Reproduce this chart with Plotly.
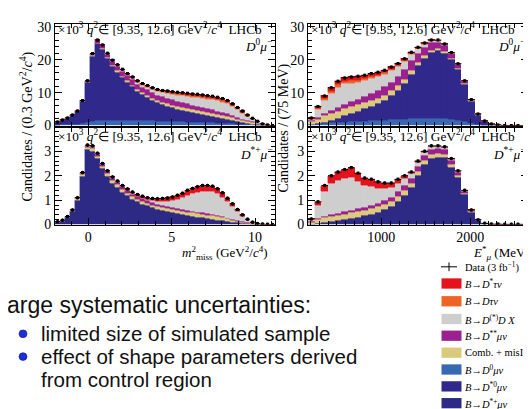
import plotly.graph_objects as go

W, H = 531, 409

# ---------------- binning ----------------
MM_LO, MM_W, MM_N = -2.0, 0.3, 44      # m2_miss [GeV^2/c^4]
E_LO, E_W, E_N = 175.0, 75.0, 33       # E*_mu [MeV]
mm_centers = [MM_LO + MM_W * (i + 0.5) for i in range(MM_N)]
e_centers = [E_LO + E_W * (i + 0.5) for i in range(E_N)]

# ---------------- D0 mu, m2_miss (x10^3) ----------------
d0_mm_data = [1.1, 1.7, 2.3, 3.2, 4.4, 7.6, 13.6, 21.9, 26.0, 24.5, 22.0, 19.9, 18.5, 17.1, 15.8, 14.8, 13.6, 12.8,
              12.2, 11.5, 11.0, 10.7, 10.5, 10.3, 10.1, 10.0, 9.8, 9.6, 9.5, 9.3, 9.1, 8.9, 8.6, 8.2, 7.6, 6.6, 5.5,
              4.4, 3.2, 2.2, 1.3, 0.5, 0.15, 0.02]
d0_mm_d0mu = [0.1, 0.15, 0.2, 0.3, 0.4, 0.6, 0.9, 1.2, 1.4, 1.5, 1.6, 1.6, 1.6, 1.6, 1.55, 1.5, 1.5, 1.45, 1.4, 1.35,
              1.3, 1.25, 1.2, 1.15, 1.1, 1.05, 1.0, 0.95, 0.9, 0.85, 0.8, 0.75, 0.7, 0.6, 0.5, 0.45, 0.35, 0.3, 0.2,
              0.15, 0.08, 0.03, 0.01, 0]
d0_mm_dst0mu = [0.9, 1.42, 1.92, 2.67, 3.7, 6.6, 12.03, 19.73, 23.39, 21.5, 18.66, 16.26, 14.62, 12.92, 11.52, 10.28,
                8.88, 7.88, 7.07, 6.22, 5.57, 5.01, 4.66, 4.26, 3.85, 3.57, 3.23, 2.94, 2.71, 2.43, 2.21, 2.0, 1.75,
                1.62, 1.43, 1.07, 0.85, 0.62, 0.44, 0.26, 0.15, 0.03, 0.01, 0]
d0_mm_comb = [0.05, 0.05, 0.05, 0.05, 0.08, 0.1, 0.15, 0.2, 0.25, 0.3, 0.35, 0.4, 0.4, 0.45, 0.45, 0.5, 0.5, 0.55, 0.6,
              0.6, 0.65, 0.7, 0.7, 0.75, 0.8, 0.85, 0.9, 0.9, 0.95, 1.0, 1.0, 1.0, 1.0, 0.95, 0.9, 0.85, 0.75, 0.65,
              0.55, 0.45, 0.3, 0.15, 0.05, 0]
d0_mm_dss = [0.02, 0.03, 0.05, 0.08, 0.12, 0.2, 0.35, 0.55, 0.7, 0.9, 1.0, 1.15, 1.3, 1.45, 1.55, 1.65, 1.7, 1.75, 1.75,
             1.75, 1.7, 1.7, 1.65, 1.6, 1.55, 1.5, 1.4, 1.3, 1.2, 1.1, 1.0, 0.95, 0.85, 0.75, 0.65, 0.55, 0.45, 0.38,
             0.28, 0.2, 0.12, 0.05, 0.02, 0]
d0_mm_ddx = [0.03, 0.05, 0.08, 0.1, 0.1, 0.1, 0.15, 0.15, 0.15, 0.15, 0.2, 0.25, 0.3, 0.35, 0.35, 0.45, 0.55, 0.65, 0.8,
             0.95, 1.1, 1.3, 1.5, 1.7, 1.9, 2.1, 2.3, 2.5, 2.7, 2.85, 3.0, 3.1, 3.2, 3.2, 3.1, 2.75, 2.3, 1.8, 1.25,
             0.8, 0.45, 0.15, 0.05, 0]
d0_mm_dtau = [0, 0, 0, 0, 0, 0, 0.02, 0.05, 0.08, 0.1, 0.12, 0.14, 0.16, 0.18, 0.2, 0.22, 0.24, 0.26, 0.28, 0.3, 0.32,
              0.34, 0.36, 0.38, 0.4, 0.41, 0.42, 0.43, 0.44, 0.45, 0.45, 0.45, 0.45, 0.44, 0.42, 0.38, 0.33, 0.27,
              0.2, 0.14, 0.08, 0.04, 0.01, 0]
d0_mm_dsttau = [0, 0, 0, 0, 0, 0, 0, 0.02, 0.03, 0.05, 0.07, 0.1, 0.12, 0.15, 0.18, 0.2, 0.23, 0.26, 0.3, 0.33, 0.36,
                0.4, 0.43, 0.46, 0.5, 0.52, 0.55, 0.58, 0.6, 0.62, 0.64, 0.65, 0.65, 0.64, 0.6, 0.55, 0.47, 0.38,
                0.28, 0.2, 0.12, 0.05, 0.02, 0]

# ---------------- D0 mu, E*_mu (x10^3) ----------------
d0_e_data = [2.3, 5.8, 9.0, 11.5, 13.5, 14.5, 14.8, 15.0, 15.3, 15.8, 16.2, 16.8, 17.8, 18.9, 20.3, 22.3, 23.8, 25.1,
             26.0, 26.0, 24.8, 22.2, 18.8, 13.6, 7.9, 3.5, 1.4, 0.45, 0.15, 0.05, 0.03, 0.02, 0.01]
d0_e_d0mu = [0.2, 0.4, 0.6, 0.8, 0.9, 1.0, 1.1, 1.2, 1.3, 1.4, 1.5, 1.6, 1.7, 1.8, 1.9, 2.0, 2.1, 2.2, 2.2, 2.2, 2.1,
             1.9, 1.6, 1.2, 0.7, 0.3, 0.12, 0.04, 0.01, 0, 0, 0, 0]
d0_e_dst0mu = [0.1, 0.1, 0.4, 0.7, 1.2, 1.9, 2.5, 3.1, 3.7, 4.4, 5.1, 6.0, 7.3, 8.85, 10.8, 13.55, 16.0, 18.3, 20.0,
               20.6, 19.9, 18.1, 15.45, 11.2, 6.55, 2.87, 1.13, 0.36, 0.12, 0.04, 0.02, 0.01, 0.0]
d0_e_comb = [0.8, 1.4, 1.9, 2.1, 2.2, 2.2, 2.1, 2.0, 1.9, 1.8, 1.7, 1.6, 1.5, 1.4, 1.3, 1.1, 0.9, 0.7, 0.6, 0.5, 0.5,
             0.4, 0.35, 0.3, 0.2, 0.1, 0.05, 0.02, 0.01, 0, 0, 0, 0]
d0_e_dss = [0.3, 0.5, 0.8, 1.0, 1.2, 1.3, 1.5, 1.7, 1.9, 2.1, 2.3, 2.5, 2.7, 2.9, 3.0, 3.0, 2.9, 2.6, 2.3, 2.0, 1.8,
            1.5, 1.2, 0.8, 0.4, 0.2, 0.08, 0.03, 0.01, 0, 0, 0, 0]
d0_e_ddx = [0.4, 2.3, 3.8, 5.1, 6.1, 6.2, 5.7, 5.2, 4.8, 4.55, 4.2, 3.85, 3.5, 3.0, 2.5, 2.0, 1.4, 0.9, 0.6, 0.45,
            0.35, 0.25, 0.15, 0.07, 0.05, 0.03, 0.02, 0.01, 0, 0, 0, 0, 0]
d0_e_dtau = [0.2, 0.5, 0.6, 0.7, 0.7, 0.7, 0.7, 0.6, 0.6, 0.55, 0.5, 0.45, 0.4, 0.35, 0.3, 0.25, 0.2, 0.15, 0.1, 0.08,
             0.05, 0.03, 0.02, 0.01, 0, 0, 0, 0, 0, 0, 0, 0, 0]
d0_e_dsttau = [0.3, 0.6, 0.9, 1.1, 1.2, 1.2, 1.2, 1.2, 1.1, 1.0, 0.9, 0.8, 0.7, 0.6, 0.5, 0.4, 0.3, 0.25, 0.2, 0.15,
               0.1, 0.05, 0.03, 0.02, 0.01, 0, 0, 0, 0, 0, 0, 0, 0]

# ---------------- D*+ mu, m2_miss (x10^3) ----------------
dp_mm_data = [0.12, 0.18, 0.33, 0.6, 1.1, 2.13, 3.25, 3.22, 2.92, 2.5, 2.2, 1.95, 1.78, 1.6, 1.46, 1.33, 1.23, 1.16,
              1.1, 1.07, 1.06, 1.07, 1.09, 1.13, 1.2, 1.28, 1.4, 1.48, 1.55, 1.6, 1.6, 1.57, 1.47, 1.3, 1.08, 0.85,
              0.62, 0.4, 0.22, 0.1, 0.04, 0.02, 0.01, 0.0]
dp_mm_dstpmu = [0.08, 0.13, 0.27, 0.52, 1.0, 1.98, 3.05, 3.0, 2.7, 2.28, 1.97, 1.7, 1.52, 1.33, 1.18, 1.04, 0.93, 0.84,
                0.76, 0.69, 0.63, 0.58, 0.53, 0.49, 0.45, 0.41, 0.37, 0.33, 0.3, 0.27, 0.24, 0.21, 0.18, 0.15, 0.12,
                0.09, 0.07, 0.05, 0.03, 0.015, 0.005, 0, 0, 0]
dp_mm_comb = [0.03, 0.03, 0.04, 0.05, 0.06, 0.08, 0.1, 0.1, 0.1, 0.1, 0.1, 0.1, 0.1, 0.1, 0.1, 0.1, 0.1, 0.1, 0.1,
              0.11, 0.11, 0.12, 0.12, 0.13, 0.13, 0.14, 0.14, 0.15, 0.15, 0.15, 0.15, 0.15, 0.14, 0.13, 0.11, 0.09,
              0.07, 0.05, 0.03, 0.02, 0.01, 0.01, 0, 0]
dp_mm_dss = [0.01, 0.01, 0.01, 0.02, 0.03, 0.04, 0.05, 0.06, 0.07, 0.08, 0.09, 0.1, 0.1, 0.11, 0.11, 0.11, 0.11, 0.11,
             0.11, 0.1, 0.1, 0.1, 0.09, 0.09, 0.08, 0.08, 0.07, 0.07, 0.06, 0.06, 0.05, 0.05, 0.04, 0.04, 0.03, 0.03,
             0.02, 0.02, 0.01, 0.01, 0, 0, 0, 0]
dp_mm_ddx = [0, 0.01, 0.01, 0.01, 0.01, 0.03, 0.04, 0.05, 0.04, 0.02, 0.02, 0.02, 0.03, 0.02, 0.02, 0.02, 0.02, 0.03,
             0.04, 0.07, 0.11, 0.15, 0.22, 0.28, 0.38, 0.47, 0.62, 0.71, 0.81, 0.88, 0.92, 0.93, 0.9, 0.8, 0.68, 0.53,
             0.38, 0.23, 0.12, 0.045, 0.015, 0.01, 0.01, 0]
dp_mm_dsttau = [0, 0, 0, 0, 0, 0, 0.01, 0.01, 0.01, 0.02, 0.02, 0.03, 0.03, 0.04, 0.05, 0.06, 0.07, 0.08, 0.09, 0.1,
                0.11, 0.12, 0.13, 0.14, 0.16, 0.18, 0.2, 0.22, 0.23, 0.24, 0.24, 0.23, 0.21, 0.18, 0.14, 0.11, 0.08,
                0.05, 0.03, 0.01, 0.01, 0, 0, 0]

# ---------------- D*+ mu, E*_mu (x10^3) ----------------
dp_e_data = [0.23, 0.93, 1.6, 2.0, 2.15, 2.25, 2.33, 2.1, 1.9, 1.85, 1.75, 1.7, 1.7, 1.85, 2.0, 2.15, 2.6, 3.0, 3.22,
             3.22, 3.18, 2.7, 2.2, 1.4, 0.6, 0.2, 0.05, 0.02, 0.02, 0.01, 0.01, 0.01, 0.01]
dp_e_dstpmu = [0.01, 0.04, 0.08, 0.12, 0.16, 0.2, 0.25, 0.3, 0.36, 0.43, 0.5, 0.6, 0.72, 0.95, 1.2, 1.5, 2.0, 2.45,
               2.72, 2.76, 2.75, 2.35, 1.92, 1.22, 0.5, 0.15, 0.03, 0.01, 0.005, 0, 0, 0, 0]
dp_e_comb = [0.08, 0.15, 0.2, 0.22, 0.22, 0.23, 0.23, 0.22, 0.22, 0.22, 0.22, 0.21, 0.21, 0.2, 0.2, 0.19, 0.18, 0.16,
             0.15, 0.14, 0.13, 0.1, 0.08, 0.06, 0.04, 0.02, 0.01, 0.01, 0.01, 0.01, 0.01, 0.01, 0.01]
dp_e_dss = [0.02, 0.05, 0.07, 0.08, 0.09, 0.1, 0.11, 0.12, 0.13, 0.14, 0.15, 0.16, 0.17, 0.19, 0.2, 0.2, 0.2, 0.22,
            0.22, 0.22, 0.21, 0.18, 0.14, 0.09, 0.04, 0.02, 0.01, 0, 0, 0, 0, 0, 0]
dp_e_ddx = [0.1, 0.55, 1.0, 1.25, 1.33, 1.35, 1.35, 1.12, 0.9, 0.78, 0.62, 0.5, 0.4, 0.35, 0.28, 0.2, 0.15, 0.12, 0.09,
            0.07, 0.06, 0.05, 0.04, 0.02, 0.01, 0.01, 0, 0, 0, 0, 0, 0, 0]
dp_e_dsttau = [0.02, 0.12, 0.2, 0.3, 0.33, 0.35, 0.37, 0.33, 0.28, 0.27, 0.25, 0.22, 0.18, 0.15, 0.1, 0.05, 0.05, 0.04,
               0.03, 0.02, 0.02, 0.01, 0.01, 0.01, 0.01, 0, 0, 0, 0, 0, 0, 0, 0]

# ---------------- labels / colours ----------------
legend_labels = ["Data (3 fb<sup>−1</sup>)",
                 "<i>B</i>→<i>D</i><sup>*</sup><i>τν</i>",
                 "<i>B</i>→<i>Dτν</i>",
                 "<i>B</i>→<i>D</i><sup>(*)</sup><i>D X</i>",
                 "<i>B</i>→<i>D</i><sup>**</sup><i>μν</i>",
                 "Comb. + misID",
                 "<i>B</i>→<i>D</i><sup>0</sup><i>μν</i>",
                 "<i>B</i>→<i>D</i><sup>*0</sup><i>μν</i>",
                 "<i>B</i>→<i>D</i><sup>*+</sup><i>μν</i>"]
C_DSTTAU = "#e5121b"
C_DTAU = "#ee6425"
C_DDX = "#cecece"
C_DSS = "#9c208f"
C_COMB = "#dbca7b"
C_D0 = "#3868b2"
C_DST0 = "#30298b"
C_DSTP = "#2d2a86"
legend_colors = [None, C_DSTTAU, C_DTAU, C_DDX, C_DSS, C_COMB, C_D0, C_DST0, C_DSTP]

SERIF = "Liberation Serif"
SANS = "Liberation Sans"


def X(p):
    return p / W


def Y(p):
    return 1 - p / H


fig = go.Figure()


def add_panel(xa, ya, centers, bw, comps, data, ey):
    for name, vals, col in comps:
        fig.add_trace(go.Bar(x=centers, y=vals, width=bw, name=name, showlegend=False,
                             marker=dict(color=col, line=dict(color=col, width=0.4)),
                             xaxis=xa, yaxis=ya))
    fig.add_trace(go.Scatter(x=centers, y=data, mode="markers", name="Data", showlegend=False,
                             marker=dict(color="black", size=3, symbol="square"),
                             error_x=dict(type="constant", value=bw / 2, thickness=1, width=0, color="black"),
                             error_y=dict(type="constant", value=ey, thickness=1, width=0, color="black"),
                             xaxis=xa, yaxis=ya))


add_panel("x", "y", mm_centers, MM_W,
          [("B→D0μν", d0_mm_d0mu, C_D0), ("B→D*0μν", d0_mm_dst0mu, C_DST0), ("Comb.", d0_mm_comb, C_COMB),
           ("B→D**μν", d0_mm_dss, C_DSS), ("B→D(*)DX", d0_mm_ddx, C_DDX), ("B→Dτν", d0_mm_dtau, C_DTAU),
           ("B→D*τν", d0_mm_dsttau, C_DSTTAU)], d0_mm_data, 0.45)
add_panel("x2", "y2", e_centers, E_W,
          [("B→D0μν", d0_e_d0mu, C_D0), ("B→D*0μν", d0_e_dst0mu, C_DST0), ("Comb.", d0_e_comb, C_COMB),
           ("B→D**μν", d0_e_dss, C_DSS), ("B→D(*)DX", d0_e_ddx, C_DDX), ("B→Dτν", d0_e_dtau, C_DTAU),
           ("B→D*τν", d0_e_dsttau, C_DSTTAU)], d0_e_data, 0.45)
add_panel("x3", "y3", mm_centers, MM_W,
          [("B→D*+μν", dp_mm_dstpmu, C_DSTP), ("Comb.", dp_mm_comb, C_COMB), ("B→D**μν", dp_mm_dss, C_DSS),
           ("B→D(*)DX", dp_mm_ddx, C_DDX), ("B→D*τν", dp_mm_dsttau, C_DSTTAU)], dp_mm_data, 0.07)
add_panel("x4", "y4", e_centers, E_W,
          [("B→D*+μν", dp_e_dstpmu, C_DSTP), ("Comb.", dp_e_comb, C_COMB), ("B→D**μν", dp_e_dss, C_DSS),
           ("B→D(*)DX", dp_e_ddx, C_DDX), ("B→D*τν", dp_e_dsttau, C_DSTTAU)], dp_e_data, 0.07)

ax_common = dict(showline=True, linecolor="black", linewidth=1, mirror="allticks", ticks="inside", ticklen=7,
                 tickcolor="black", tickwidth=1, showgrid=False, zeroline=False,
                 tickfont=dict(family=SERIF, size=14, color="black"))

dom_xl = [X(47), X(267)]
dom_xr = [X(300), X(520)]
dom_yt = [Y(117), Y(12)]
dom_yb = [Y(219), Y(119)]

fig.update_layout(
    width=W, height=H, margin=dict(l=0, r=0, t=0, b=0),
    paper_bgcolor="white", plot_bgcolor="white",
    barmode="stack", bargap=0, showlegend=False,
    xaxis=dict(ax_common, domain=dom_xl, range=[-2, 11.2], anchor="y", dtick=5, tick0=0, showticklabels=False,
               minor=dict(ticks="inside", ticklen=4, dtick=1, tickcolor="black")),
    yaxis=dict(ax_common, domain=dom_yt, range=[0, 31], anchor="x", dtick=10, tick0=0,
               minor=dict(ticks="inside", ticklen=4, dtick=2, tickcolor="black")),
    xaxis2=dict(ax_common, domain=dom_xr, range=[175, 2650], anchor="y2", dtick=1000, tick0=0, showticklabels=False,
                minor=dict(ticks="inside", ticklen=4, dtick=100, tickcolor="black")),
    yaxis2=dict(ax_common, domain=dom_yt, range=[0, 31], anchor="x2", dtick=10, tick0=0,
                minor=dict(ticks="inside", ticklen=4, dtick=2, tickcolor="black")),
    xaxis3=dict(ax_common, domain=dom_xl, range=[-2, 11.2], anchor="y3", dtick=5, tick0=0,
                minor=dict(ticks="inside", ticklen=4, dtick=1, tickcolor="black")),
    yaxis3=dict(ax_common, domain=dom_yb, range=[0, 3.97], anchor="x3", dtick=1, tick0=0,
                minor=dict(ticks="inside", ticklen=4, dtick=0.2, tickcolor="black")),
    xaxis4=dict(ax_common, domain=dom_xr, range=[175, 2650], anchor="y4", dtick=1000, tick0=0,
                minor=dict(ticks="inside", ticklen=4, dtick=100, tickcolor="black")),
    yaxis4=dict(ax_common, domain=dom_yb, range=[0, 3.97], anchor="x4", dtick=1, tick0=0,
                minor=dict(ticks="inside", ticklen=4, dtick=0.2, tickcolor="black")),
)

ann = []
shapes = []


def txt(x, y, s, size, xanchor="left", family=SERIF, angle=0, color="black"):
    ann.append(dict(x=X(x), y=Y(y), xref="paper", yref="paper", text=s, showarrow=False, xanchor=xanchor,
                    yanchor="middle", textangle=angle, borderpad=0, borderwidth=0,
                    font=dict(family=family, size=size, color=color)))


header = "×10<sup>3</sup> <i>q</i><sup>2</sup>∈ [9.35, 12.6] GeV<sup>2</sup>/<i>c</i><sup>4</sup>  LHCb"
lab_d0 = "<i>D</i><sup>0</sup><i>μ</i><sup>−</sup>"
lab_dp = "<i>D</i><sup>*+</sup><i>μ</i><sup>−</sup>"
for (xl, xr, yh, yl, lab) in [(50, 264, 17.5, 35, lab_d0), (303, 517, 17.5, 35, lab_d0),
                              (50, 264, 127.5, 146, lab_dp), (303, 517, 127.5, 146, lab_dp)]:
    txt(xl, yh, header, 13.3)
    txt(xr, yl, lab, 13.3, xanchor="right")

txt(174, 248, "<i>m</i><sup>2</sup><sub>miss</sub> (GeV<sup>2</sup>/<i>c</i><sup>4</sup>)", 13)
txt(465, 248, "<i>E</i><sup>*</sup><sub><i>μ</i></sub> (MeV)", 13)
txt(19, 118, "Candidates / (0.3 GeV<sup>2</sup>/<i>c</i><sup>4</sup>)", 14, xanchor="center", angle=-90)
txt(276, 120, "Candidates / (75 MeV)", 14, xanchor="center", angle=-90)

# legend (drawn manually)
leg_y = [262.5, 279.7, 298, 316.3, 333.5, 351, 368.3, 385.7, 403]
for i, (lab, col) in enumerate(zip(legend_labels, legend_colors)):
    yc = leg_y[i]
    if col is None:
        shapes.append(dict(type="line", xref="paper", yref="paper", x0=X(433), x1=X(449), y0=Y(yc), y1=Y(yc),
                           line=dict(color="black", width=1)))
        shapes.append(dict(type="line", xref="paper", yref="paper", x0=X(441), x1=X(441), y0=Y(yc - 4.5),
                           y1=Y(yc + 4.5), line=dict(color="black", width=1)))
    else:
        shapes.append(dict(type="rect", xref="paper", yref="paper", x0=X(433.5), x1=X(453.5), y0=Y(yc + 5.3),
                           y1=Y(yc - 5.3), fillcolor=col, line=dict(width=0)))
    txt(456.5, yc, lab, 10.5)

# slide text
txt(-1, 302, "arge systematic uncertainties:", 23, family=SANS, color="#111111")
for yb, line in [(331.5, "limited size of simulated sample"), (355, "effect of shape parameters derived"),
                 (378.5, "from control region")]:
    txt(33, yb, line, 20.5, family=SANS, color="#111111")
for yb in [331.5, 355]:
    shapes.append(dict(type="circle", xref="paper", yref="paper", x0=X(11), x1=X(19), y0=Y(yb + 4),
                       y1=Y(yb - 4), fillcolor="#1d2fd6", line=dict(color="#0c1490", width=0.6)))

fig.update_layout(annotations=ann, shapes=shapes)
fig.write_html("out.html")
